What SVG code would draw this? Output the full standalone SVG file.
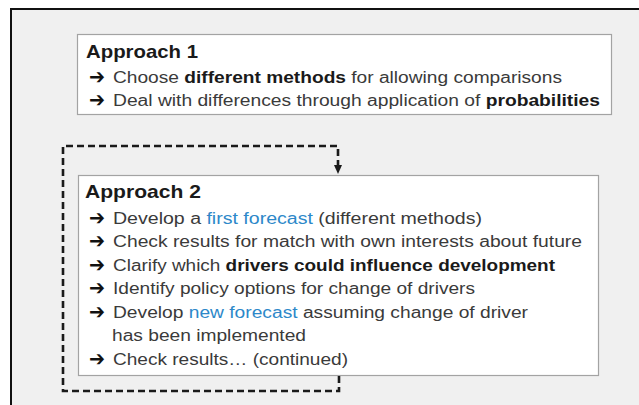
<svg xmlns="http://www.w3.org/2000/svg" width="639" height="405" viewBox="0 0 639 405">
  <defs>
    <style>
      .frame { fill: none; stroke: #111; stroke-width: 2; }
      .box { fill: #ffffff; stroke: #a3a3a3; stroke-width: 1.2; }
      .title { font-family: "Liberation Sans", Arial, sans-serif; font-weight: bold; font-size: 19px; fill: #1a1a1a; }
      .line { font-family: "Liberation Sans", Arial, sans-serif; font-size: 16px; fill: #3a3a3a; }
      .arr { font-family: "DejaVu Sans", sans-serif; font-weight: bold; font-size: 21px; fill: #111; }
      .b { font-weight: bold; fill: #1a1a1a; }
      .blue { fill: #2d88c9; }
      .dash { fill: none; stroke: #1a1a1a; stroke-width: 2.6; stroke-dasharray: 7 4; }
    </style>
    <marker id="ah" markerWidth="10" markerHeight="10" refX="3" refY="5" orient="auto" markerUnits="userSpaceOnUse" viewBox="0 0 10 10">
      <path d="M0,1 L9,5 L0,9 Z" fill="#1a1a1a"/>
    </marker>
  </defs>

  <rect x="0" y="0" width="639" height="405" fill="#ffffff"/>
  <rect x="11" y="9" width="628" height="396" fill="#f0f0f0"/>
  <path class="frame" d="M11,405 V9 H639"/>

  <g id="approach1">
    <rect class="box" x="77.5" y="34.5" width="534" height="80"/>
    <text class="title" x="86" y="58" textLength="112" lengthAdjust="spacingAndGlyphs">Approach 1</text>
    <text class="arr" x="89" y="84" textLength="16" lengthAdjust="spacingAndGlyphs">➔</text>
    <text class="line" x="113" y="83" textLength="449" lengthAdjust="spacingAndGlyphs">Choose <tspan class="b">different methods</tspan> for allowing comparisons</text>
    <text class="arr" x="89" y="107" textLength="16" lengthAdjust="spacingAndGlyphs">➔</text>
    <text class="line" x="113" y="106" textLength="487" lengthAdjust="spacingAndGlyphs">Deal with differences through application of <tspan class="b">probabilities</tspan></text>
  </g>

  <g id="approach2">
    <rect class="box" x="78.5" y="175.5" width="520" height="200"/>
    <text class="title" x="85" y="198" textLength="116" lengthAdjust="spacingAndGlyphs">Approach 2</text>
    <text class="arr" x="89" y="224.5" textLength="16" lengthAdjust="spacingAndGlyphs">➔</text>
    <text class="line" x="113" y="223.5" textLength="369" lengthAdjust="spacingAndGlyphs">Develop a <tspan class="blue">first forecast</tspan> (different methods)</text>
    <text class="arr" x="89" y="248" textLength="16" lengthAdjust="spacingAndGlyphs">➔</text>
    <text class="line" x="113" y="247" textLength="469" lengthAdjust="spacingAndGlyphs">Check results for match with own interests about future</text>
    <text class="arr" x="89" y="271.5" textLength="16" lengthAdjust="spacingAndGlyphs">➔</text>
    <text class="line" x="113" y="270.5" textLength="442" lengthAdjust="spacingAndGlyphs">Clarify which <tspan class="b">drivers could influence development</tspan></text>
    <text class="arr" x="89" y="295" textLength="16" lengthAdjust="spacingAndGlyphs">➔</text>
    <text class="line" x="113" y="294" textLength="362" lengthAdjust="spacingAndGlyphs">Identify policy options for change of drivers</text>
    <text class="arr" x="89" y="318.5" textLength="16" lengthAdjust="spacingAndGlyphs">➔</text>
    <text class="line" x="113" y="317.5" textLength="415" lengthAdjust="spacingAndGlyphs">Develop <tspan class="blue">new forecast</tspan> assuming change of driver</text>
    <text class="line" x="112" y="341" textLength="194" lengthAdjust="spacingAndGlyphs">has been implemented</text>
    <text class="arr" x="89" y="365.5" textLength="16" lengthAdjust="spacingAndGlyphs">➔</text>
    <text class="line" x="113" y="364.5" textLength="235" lengthAdjust="spacingAndGlyphs">Check results… (continued)</text>
  </g>

  <g id="connectors">
    <path class="dash" d="M339,376 V391 H63 V146 H338 V168" marker-end="url(#ah)"/>
  </g>
</svg>
